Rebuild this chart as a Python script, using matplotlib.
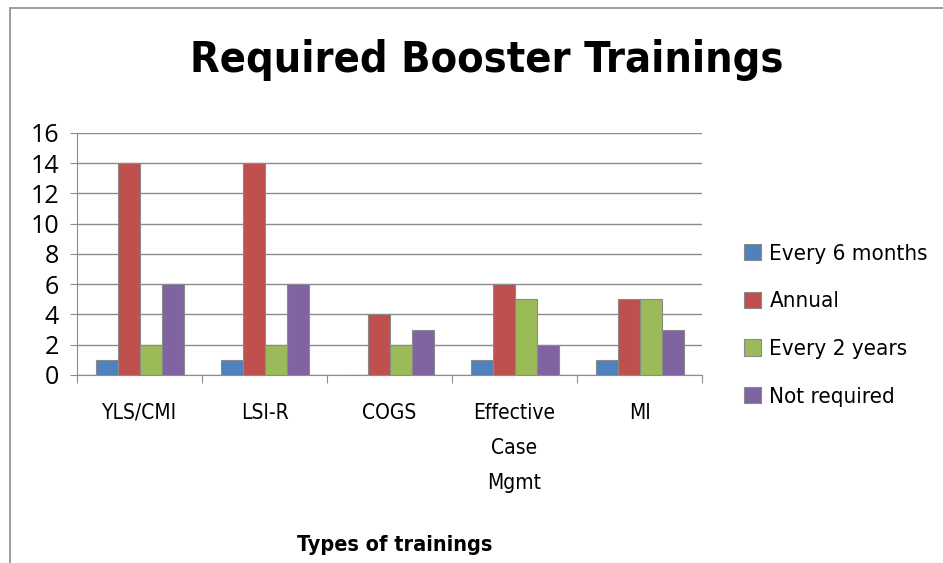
import matplotlib.pyplot as plt
import numpy as np
from matplotlib.patches import Rectangle

# data
categories = ['YLS/CMI', 'LSI-R', 'COGS', 'Effective\nCase\nMgmt', 'MI']
series_names = ['Every 6 months', 'Annual', 'Every 2 years', 'Not required']
every_6_months = [1, 1, 0, 1, 1]
annual = [14, 14, 4, 6, 5]
every_2_years = [2, 2, 2, 5, 5]
not_required = [6, 6, 3, 2, 3]
colors = ['#4f81bd', '#c0504d', '#9bbb59', '#8064a2']

fig = plt.figure(figsize=(9.43, 5.63), dpi=100)
ax = fig.add_axes([0.0817, 0.334, 0.6628, 0.430])

# chart border (cropped at right and bottom)
fig.patches.append(Rectangle((10 / 943, -0.1), 1.2, 1 - 8 / 563 + 0.1,
                             transform=fig.transFigure, fill=False,
                             edgecolor='#8c8c8c', linewidth=1.2))

x = np.arange(len(categories))
w = 0.176
for i, (vals, name) in enumerate(zip([every_6_months, annual, every_2_years, not_required], series_names)):
    ax.bar(x + (i - 1.5) * w, vals, w, color=colors[i], edgecolor='#8a8a8a',
           linewidth=0.8, label=name, zorder=3)

ax.set_xlim(-0.5, len(categories) - 0.5)
ax.set_ylim(0, 16)
ax.set_yticks(range(0, 17, 2))
ax.yaxis.grid(True, color='#8c8c8c', linewidth=1)
ax.set_axisbelow(True)
for s in ['top', 'right']:
    ax.spines[s].set_visible(False)
for s in ['left', 'bottom']:
    ax.spines[s].set_color('#8c8c8c')
ax.tick_params(axis='y', length=5, color='#8c8c8c', labelsize=18, pad=8)
for t in ax.get_yticklabels():
    t.set_family('Open Sans')

# category ticks at boundaries, labels at centres
ax.set_xticks(np.arange(-0.5, len(categories)), minor=False)
ax.set_xticklabels([])
ax.tick_params(axis='x', length=6, color='#8c8c8c')
for xi, lab in zip(x, categories):
    ax.text(xi, -1.85, lab, ha='center', va='top', fontsize=15,
            family='DejaVu Sans', stretch='condensed', linespacing=1.95)

ax.set_title('Required Booster Trainings', fontsize=31, fontweight='bold',
             family='DejaVu Sans', stretch='condensed', x=0.655, pad=44)
fig.text(395 / 943, 1 - 545 / 563, 'Types of trainings', ha='center', va='center',
         fontsize=15.5, fontweight='bold', family='DejaVu Sans', stretch='condensed')

ax.legend(loc='center left', bbox_to_anchor=(1.035, 0.205), frameon=False,
          prop={'family': 'DejaVu Sans', 'stretch': 'condensed', 'size': 16},
          handlelength=0.75, handleheight=0.75, handletextpad=0.4, labelspacing=1.25)

fig.savefig('out.png', dpi=100)
